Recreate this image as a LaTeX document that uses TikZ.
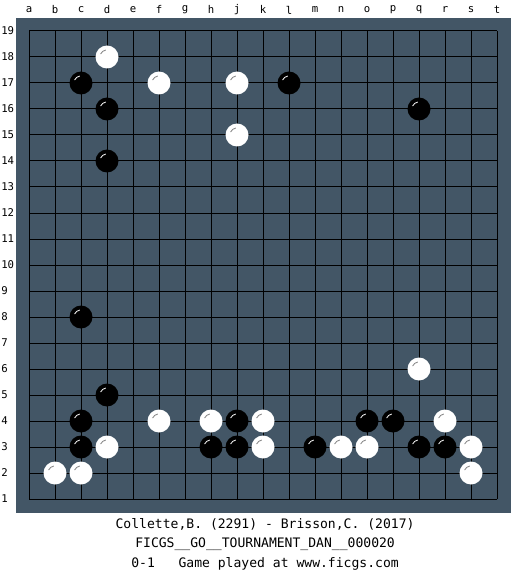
\documentclass[tikz,border=0pt]{standalone}
\usepackage{fontspec}
\newfontfamily\monofont{DejaVu Sans Mono}
\definecolor{boardblue}{RGB}{67,86,102}
\tikzset{
  stone/.style={circle, minimum size=17.25pt, inner sep=0pt},
  bstone/.style={stone, fill=black,
    path picture={\draw[white, line width=0.6pt] (path picture bounding box.center) ++(155:5.3pt) arc[start angle=155, end angle=100, radius=5.3pt];}},
  wstone/.style={stone, fill=white,
    path picture={\draw[gray, line width=0.6pt] (path picture bounding box.center) ++(155:5.3pt) arc[start angle=155, end angle=100, radius=5.3pt];}},
  coord/.style={font=\fontsize{8pt}{9pt}\monofont},
  info/.style={font=\fontsize{9.8pt}{11pt}\monofont}
}
\begin{document}
\begin{tikzpicture}[x=19.5pt, y=19.5pt]
  \useasboundingbox[fill=white] (-1.1154,-2.923) rectangle (19.0769,19.1923);

  % 棋盘
  \fill[boardblue] (-0.5,-0.538) rectangle (18.538,18.5);
  \foreach \i in {0,...,18} {
    \draw[line width=0.75pt] (\i,0) -- (\i,18);
    \draw[line width=0.75pt] (0,\i) -- (18,\i);
  }

  % 坐标
  \foreach \c [count=\i from 0] in {a,b,c,d,e,f,g,h,j,k,l,m,n,o,p,q,r,s,t}
    \node[coord] (col-\c) at (\i,18.81) {\c};
  \foreach \r in {1,...,19}
    \node[coord, anchor=west, inner sep=0pt] (row-\r) at (-1.077,\r-1) {\r};

  % 黑子
  \node[bstone] (c17) at (2,16) {};
  \node[bstone] (l17) at (10,16) {};
  \node[bstone] (d16) at (3,15) {};
  \node[bstone] (q16) at (15,15) {};
  \node[bstone] (d14) at (3,13) {};
  \node[bstone] (c8) at (2,7) {};
  \node[bstone] (d5) at (3,4) {};
  \node[bstone] (c4) at (2,3) {};
  \node[bstone] (j4) at (8,3) {};
  \node[bstone] (o4) at (13,3) {};
  \node[bstone] (p4) at (14,3) {};
  \node[bstone] (c3) at (2,2) {};
  \node[bstone] (h3) at (7,2) {};
  \node[bstone] (j3) at (8,2) {};
  \node[bstone] (m3) at (11,2) {};
  \node[bstone] (q3) at (15,2) {};
  \node[bstone] (r3) at (16,2) {};

  % 白子
  \node[wstone] (d18) at (3,17) {};
  \node[wstone] (f17) at (5,16) {};
  \node[wstone] (j17) at (8,16) {};
  \node[wstone] (j15) at (8,14) {};
  \node[wstone] (q6) at (15,5) {};
  \node[wstone] (f4) at (5,3) {};
  \node[wstone] (h4) at (7,3) {};
  \node[wstone] (k4) at (9,3) {};
  \node[wstone] (r4) at (16,3) {};
  \node[wstone] (d3) at (3,2) {};
  \node[wstone] (k3) at (9,2) {};
  \node[wstone] (n3) at (12,2) {};
  \node[wstone] (o3) at (13,2) {};
  \node[wstone] (s3) at (17,2) {};
  \node[wstone] (b2) at (1,1) {};
  \node[wstone] (c2) at (2,1) {};
  \node[wstone] (s2) at (17,1) {};

  % 对局信息
  \node[info] (players) at (9.08,-0.96) {Collette,B. (2291) - Brisson,C. (2017)};
  \node[info] (event) at (9.08,-1.73) {FICGS\_\_GO\_\_TOURNAMENT\_DAN\_\_000020};
  \node[info] (result) at (9.08,-2.5) {0-1\ \ \ Game played at www.ficgs.com};
\end{tikzpicture}
\end{document}
